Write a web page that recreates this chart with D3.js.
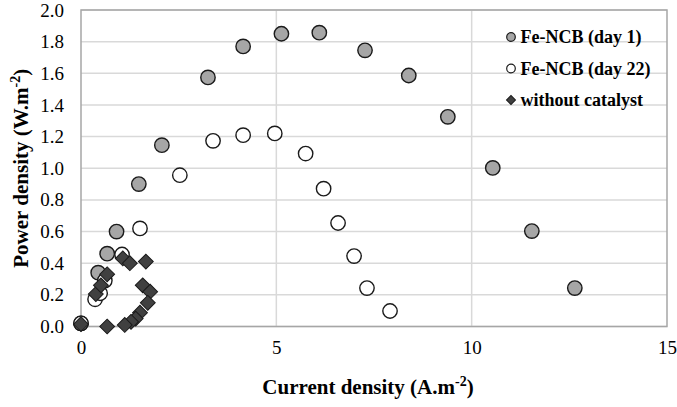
<!DOCTYPE html>
<html lang="en">
<head>
    <script src="https://cdnjs.cloudflare.com/ajax/libs/d3/7.8.5/d3.min.js"></script>
    <style>
        body { margin: 0; background: #fff; }
        svg text { font-family: "Liberation Serif", "Times New Roman", Tinos, "DejaVu Serif", serif !important; fill: #000; }
    </style>
</head>
<body>
    <svg></svg>
    <script>
        // values
        const day1X = [0, 0.44, 0.67, 0.91, 1.48, 2.07, 3.25, 4.15, 5.13, 6.10, 7.27, 8.39, 9.39, 10.54, 11.54, 12.64]
        const day1Y = [0.02, 0.34, 0.46, 0.60, 0.90, 1.146, 1.574, 1.77, 1.85, 1.857, 1.745, 1.586, 1.325, 1.002, 0.603, 0.243]

        const day22X = [0, 0.36, 0.49, 0.61, 1.05, 1.51, 2.53, 3.38, 4.15, 4.96, 5.75, 6.21, 6.58, 6.99, 7.32, 7.91]
        const day22Y = [0.02, 0.172, 0.21, 0.29, 0.455, 0.62, 0.956, 1.173, 1.209, 1.22, 1.093, 0.871, 0.654, 0.445, 0.243, 0.098]

        const noCatX = [0, 0.38, 0.51, 0.67, 1.07, 1.25, 1.66, 1.58, 1.77, 1.71, 1.51, 1.40, 1.28, 1.12, 0.67]
        const noCatY = [0.015, 0.205, 0.26, 0.33, 0.43, 0.40, 0.41, 0.26, 0.22, 0.15, 0.087, 0.05, 0.03, 0.01, 0.0]

        const seriesNames = ['Fe-NCB (day 1)', 'Fe-NCB (day 22)', 'without catalyst']
        const xTicks = [0, 5, 10, 15]
        const yTicks = d3.range(0, 2.01, 0.2)

        const FONT = '"Liberation Serif", "Times New Roman", serif'
        const W = 677, H = 407
        const margin = {top: 10, right: 10, bottom: 80.5, left: 81}

        const svg = d3.select('svg')
            .attr('width', W)
            .attr('height', H)

        const x = d3.scaleLinear().domain([0, 15]).range([margin.left, W - margin.right])
        const y = d3.scaleLinear().domain([0, 2]).range([H - margin.bottom, margin.top])

        // gridlines
        svg.append('g')
            .selectAll('line')
            .data(yTicks)
            .enter()
            .append('line')
            .attr('x1', x(0)).attr('x2', x(15))
            .attr('y1', d => y(d)).attr('y2', d => y(d))
            .attr('stroke', '#d9d9d9')
            .attr('stroke-width', 1.5)

        svg.append('g')
            .selectAll('line')
            .data([5, 10])
            .enter()
            .append('line')
            .attr('x1', d => x(d)).attr('x2', d => x(d))
            .attr('y1', y(0)).attr('y2', y(2))
            .attr('stroke', '#d9d9d9')
            .attr('stroke-width', 1.5)

        // plot border
        svg.append('rect')
            .attr('x', x(0)).attr('y', y(2))
            .attr('width', x(15) - x(0)).attr('height', y(0) - y(2))
            .attr('fill', 'none')
            .attr('stroke', '#a6a6a6')
            .attr('stroke-width', 1.5)

        // axes (labels only)
        const yAxis = svg.append('g')
            .attr('transform', `translate(${x(0)},0)`)
            .call(d3.axisLeft(y).tickValues(yTicks).tickFormat(d3.format('.1f')).tickSize(0).tickPadding(17))
        yAxis.attr('font-family', FONT).attr('font-size', 19)
        yAxis.select('.domain').remove()
        yAxis.selectAll('text').attr('font-family', FONT).style('font-size', '19px')

        const xAxis = svg.append('g')
            .attr('transform', `translate(0,${y(0)})`)
            .call(d3.axisBottom(x).tickValues(xTicks).tickFormat(d3.format('d')).tickSize(0).tickPadding(14))
        xAxis.attr('font-family', FONT).attr('font-size', 19)
        xAxis.select('.domain').remove()
        xAxis.selectAll('text').attr('font-family', FONT).style('font-size', '19px')

        // axis titles
        const xt = svg.append('text')
            .attr('x', 368).attr('y', 394)
            .attr('text-anchor', 'middle')
            .attr('font-family', FONT)
            .style('font-size', '21px').style('font-weight', 'bold')
        xt.append('tspan').text('Current density (A.m')
        xt.append('tspan').attr('dy', -8).style('font-size', '14px').text('-2')
        xt.append('tspan').attr('dy', 8).text(')')

        const yt = svg.append('text')
            .attr('transform', `translate(28,${(y(0) + y(2)) / 2}) rotate(-90)`)
            .attr('text-anchor', 'middle')
            .attr('font-family', FONT)
            .style('font-size', '21px').style('font-weight', 'bold')
        yt.append('tspan').text('Power density (W.m')
        yt.append('tspan').attr('dy', -8).style('font-size', '14px').text('-2')
        yt.append('tspan').attr('dy', 8).text(')')

        const zip = (xs, ys) => xs.map((v, i) => ({x: v, y: ys[i]}))
        const diamond = d3.symbol().type(d3.symbolSquare).size(110)

        svg.append('g')
            .selectAll('circle')
            .data(zip(day1X, day1Y))
            .enter()
            .append('circle')
            .attr('cx', d => x(d.x)).attr('cy', d => y(d.y))
            .attr('r', 7.2)
            .attr('fill', '#a6a6a6')
            .attr('stroke', '#1a1a1a')
            .attr('stroke-width', 1.4)

        svg.append('g')
            .selectAll('circle')
            .data(zip(day22X, day22Y))
            .enter()
            .append('circle')
            .attr('cx', d => x(d.x)).attr('cy', d => y(d.y))
            .attr('r', 7.2)
            .attr('fill', '#fff')
            .attr('stroke', '#1a1a1a')
            .attr('stroke-width', 1.4)

        svg.append('g')
            .selectAll('path')
            .data(zip(noCatX, noCatY))
            .enter()
            .append('path')
            .attr('d', diamond)
            .attr('transform', d => `translate(${x(d.x)},${y(d.y)}) rotate(45)`)
            .attr('fill', '#404040')
            .attr('stroke', '#1a1a1a')
            .attr('stroke-width', 1)

        // legend
        const legend = svg.append('g')
            .selectAll('g')
            .data(seriesNames)
            .enter()
            .append('g')
            .attr('transform', (d, i) => `translate(511,${37 + i * 31.5})`)

        legend.each(function (d, i) {
            const g = d3.select(this)
            if (i < 2) {
                g.append('circle')
                    .attr('r', 4.3)
                    .attr('fill', i === 0 ? '#a6a6a6' : '#fff')
                    .attr('stroke', '#1a1a1a')
                    .attr('stroke-width', 1.2)
            } else {
                g.append('path')
                    .attr('d', d3.symbol().type(d3.symbolSquare).size(40))
                    .attr('transform', 'rotate(45)')
                    .attr('fill', '#404040')
                    .attr('stroke', '#1a1a1a')
            }
            g.append('text')
                .attr('x', 9.5).attr('y', 0)
                .attr('dy', '0.35em')
                .attr('font-family', FONT)
                .style('font-size', '18px').style('font-weight', 'bold')
                .text(d)
        })
    </script>
</body>
</html>
